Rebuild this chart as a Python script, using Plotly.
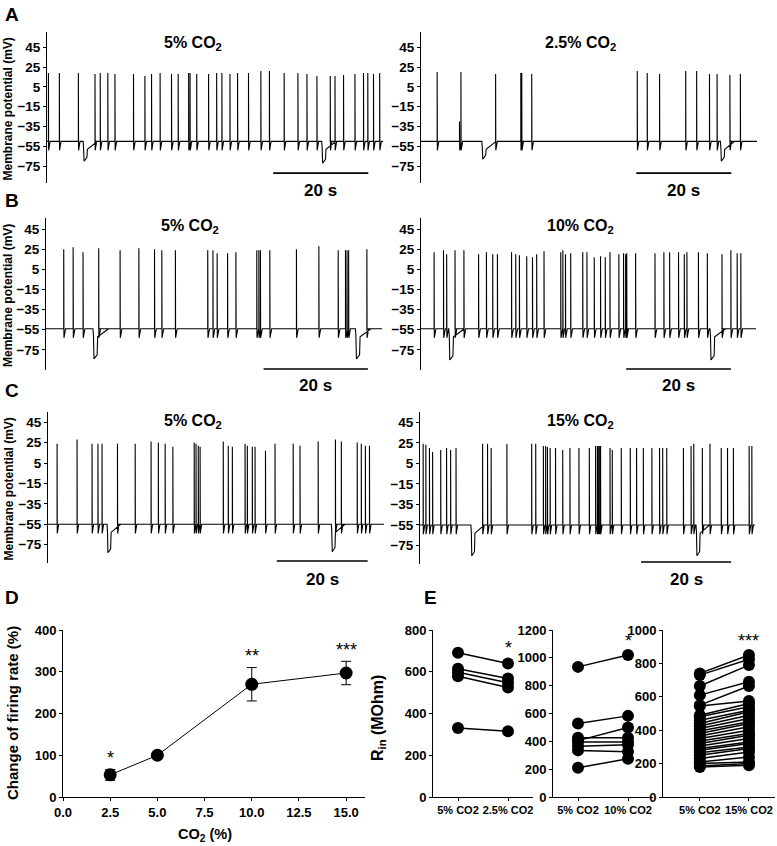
import plotly.graph_objects as go

W, H = 777, 846
FONT = "Liberation Sans, Arial, sans-serif"

# ---- panel A-C: spike times (s), peak (mV), hyperpolarising dips ----
a5_spikes = [0.3, 2.6, 6.6, 10.1, 11.2, 12.8, 14.3, 18.2, 20.6, 22.0, 23.8, 26.2, 27.6, 29.8, 30.1, 31.5,
             34.0, 35.7, 36.8, 38.5, 40.1, 42.4, 45.0, 46.8, 49.9, 52.8, 54.7, 56.8, 59.6, 60.6, 62.4,
             64.8, 66.6, 67.5, 68.7, 70.0]
a5_peaks = [19, 19, 19, 18, 19, 19, 18, 18, 16, 18, 19, 18, 18, 19, 19, 18, 18, 19, 19, 18,
            19, 19, 21, 21, 19, 19, 18, 16, 16, 16, 17, 18, 19, 19, 18, 19]
a5_dips = [7.6, 57.8]
a5_dip_min = [-70, -72]

a25_spikes = [3.4, 8.1, 8.4, 15.7, 21.0, 21.2, 23.3, 45.5, 47.6, 50.2, 55.7, 58.0, 60.7, 62.3, 65.0, 67.2]
a25_peaks = [20, -30, 20, 18, 19, 19, 18, 21, 19, 18, 21, 21, 18, 18, 17, 18]
a25_dips = [12.8, 63.0]
a25_dip_min = [-68, -70]

b5_spikes = [3.4, 5.2, 7.1, 10.1, 14.2, 17.8, 20.8, 22.2, 24.8, 31.0, 32.0, 32.8, 34.8, 36.4, 40.4,
             40.8, 41.1, 42.9, 48.0, 52.3, 56.0, 57.4, 57.7, 58.0, 61.5]
b5_peaks = [25, 27, 22, 26, 24, 26, 25, 24, 24, 24, 24, 21, 21, 22, 24, 24, 24, 24, 25, 28, 24, 24, 24, 24, 25]
b5_dips = [9.0, 59.3]
b5_dip_min = [-84, -84]

b10_spikes = [2.5, 4.3, 4.9, 6.5, 8.2, 11.0, 12.5, 13.7, 14.6, 17.3, 18.1, 18.8, 20.2, 21.3, 22.1, 23.5,
              26.7, 27.1, 27.6, 28.6, 30.9, 31.7, 33.1, 34.3, 35.2, 36.1, 37.8, 38.7, 39.1, 39.3, 41.0,
              44.7, 46.4, 47.5, 49.2, 50.3, 50.8, 53.0, 54.7, 57.5, 59.2, 60.4, 61.1]
b10_peaks = [22, 24, 20, 24, 24, 20, 22, 20, 20, 22, 20, 19, 18, 17, 20, 23, 22, 24, 20, 21, 22, 22,
             17, 18, 17, 22, 20, 21, 20, 21, 21, 21, 22, 22, 22, 20, 22, 22, 21, 20, 24, 21, 21]
b10_dips = [5.3, 55.2]
b10_dip_min = [-85, -85]

c5_spikes = [2.0, 6.4, 9.7, 11.0, 11.9, 15.3, 19.2, 22.7, 24.3, 25.8, 27.5, 32.2, 32.6, 33.1, 33.5, 38.6,
             39.7, 40.6, 43.4, 43.9, 45.0, 45.6, 47.9, 50.0, 54.0, 55.5, 59.5, 63.3, 64.6, 68.1, 69.0,
             69.9, 70.8]
c5_peaks = [24, 28, 24, 24, 24, 24, 24, 26, 25, 24, 21, 25, 24, 22, 21, 26, 22, 21, 24, 22, 21, 21, 17,
            24, 24, 22, 26, 28, 26, 25, 24, 22, 22]
c5_dips = [13.0, 62.4]
c5_dip_min = [-83, -82]

c15_spikes = [0.7, 1.3, 2.1, 2.8, 4.6, 5.9, 6.8, 8.0, 13.9, 15.0, 15.8, 19.3, 24.8, 25.7, 27.4, 27.9,
              28.3, 28.9, 30.1, 31.7, 33.3, 35.3, 37.6, 39.0, 39.4, 39.6, 39.9, 40.1, 42.2, 42.7, 44.7,
              46.7, 48.1, 49.6, 51.5, 53.2, 53.9, 54.8, 58.5, 60.2, 60.8, 62.7, 64.4, 66.9, 68.3, 69.6,
              73.1, 73.7]
c15_peaks = [24, 23, 20, 16, 18, 20, 18, 20, 24, 24, 20, 24, 24, 24, 22, 22, 21, 20, 20, 18, 20, 20,
             20, 22, 22, 22, 22, 22, 20, 18, 20, 20, 20, 20, 20, 20, 20, 20, 20, 22, 24, 20, 24, 20,
             20, 20, 22, 22]
c15_dips = [11.3, 61.3]
c15_dip_min = [-85, -85]

# ---- panel D ----
co2_levels = [2.5, 5.0, 10.0, 15.0]
firing_change = [53, 100, 270, 297]
firing_err = [13, 0, 40, 28]
firing_stars = ["*", "", "**", "***"]

# ---- panel E (input resistance, MOhm) ----
rin_25_ctrl = [691, 614, 598, 578, 330]
rin_25_test = [640, 568, 547, 525, 315]
rin_10_ctrl = [935, 528, 405, 425, 395, 365, 335, 210]
rin_10_test = [1020, 583, 500, 425, 395, 375, 325, 275]
rin_15_ctrl = [740, 730, 665, 610, 550, 545, 490, 480, 460, 440, 425, 410, 395, 380, 365, 350, 335,
               320, 305, 290, 280, 265, 250, 230, 210, 200, 185, 180]
rin_15_test = [850, 825, 790, 690, 665, 575, 560, 540, 520, 510, 490, 470, 450, 440, 420, 400, 380,
               370, 350, 330, 320, 300, 290, 270, 240, 210, 200, 190]


def px(x):
    return x / W


def py(y):
    return 1 - y / H


def label(fig, x, y, text, size, angle=0, xref="paper", yref="paper"):
    fig.add_annotation(xref=xref, yref=yref, x=x, y=y, text=text, textangle=angle, showarrow=False,
                       xanchor="center", yanchor="middle", font=dict(family=FONT, size=size, color="black"))


def build_trace(spikes, peaks, dips, dip_min, base, t_end):
    events = [(t, "s", p) for t, p in zip(spikes, peaks)] + [(t, "d", m) for t, m in zip(dips, dip_min)]
    events.sort()
    xs, ys = [0], [base]
    for t, kind, v in events:
        if kind == "s":
            xs += [t, t, t + 0.04, t + 0.35]
            ys += [base, v, base - 9, base]
        else:
            xs += [t, t + 0.1, t + 0.2, t + 0.8, t + 0.9, t + 3.0]
            ys += [base, base - 7, v, v + 4, base - 8, base]
    xs.append(t_end)
    ys.append(base)
    return xs, ys


fig = go.Figure()

# trace panels
panels = [
    (a5_spikes, a5_peaks, a5_dips, a5_dip_min, -50, 70.7, (47, 383), (32, 183), (-92, 60.5), 47.6, -82, "5% CO<sub>2</sub>", (193, 43)),
    (a25_spikes, a25_peaks, a25_dips, a25_dip_min, -50, 70.7, (421, 757), (32, 183), (-92, 60.5), 45.3, -82, "2.5% CO<sub>2</sub>", (580, 43)),
    (b5_spikes, b5_peaks, b5_dips, b5_dip_min, -54, 64.4, (46, 382), (218, 370), (-95, 56), 41.7, -94, "5% CO<sub>2</sub>", (190, 226)),
    (b10_spikes, b10_peaks, b10_dips, b10_dip_min, -54, 64.0, (421, 756), (218, 370), (-95, 56), 39.2, -94, "10% CO<sub>2</sub>", (580, 226)),
    (c5_spikes, c5_peaks, c5_dips, c5_dip_min, -55, 74.0, (48, 384), (412, 563), (-93, 55), 50.4, -91, "5% CO<sub>2</sub>", (193, 421)),
    (c15_spikes, c15_peaks, c15_dips, c15_dip_min, -55, 74.4, (420, 755), (412, 564), (-93, 55), 49.1, -91, "15% CO<sub>2</sub>", (580, 421)),
]
bar_label_y = [190, 190, 385, 385, 579, 579]

axis_line = dict(showline=True, linecolor="black", linewidth=1, showgrid=False, zeroline=False,
                 ticks="outside", ticklen=3, tickcolor="black", automargin=False)

for i, (sp, pk, dp, dm, base, T, xd, yd, yr, bar0, bar_y, title, tpos) in enumerate(panels, start=1):
    xs, ys = build_trace(sp, pk, dp, dm, base, T)
    fig.add_trace(go.Scatter(x=xs, y=ys, mode="lines", line=dict(color="black", width=1.1),
                             xaxis=f"x{i}", yaxis=f"y{i}", hoverinfo="skip"))
    fig.update_layout(**{
        f"xaxis{i}": dict(domain=[px(xd[0]), px(xd[1])], range=[0, T], visible=False, anchor=f"y{i}",
                          automargin=False),
        f"yaxis{i}": dict(domain=[py(yd[1]), py(yd[0])], range=list(yr), anchor=f"x{i}",
                          tickvals=[45, 25, 5, -15, -35, -55, -75],
                          tickfont=dict(family=FONT, size=13.5, color="black", weight="bold"), **axis_line),
    })
    fig.add_shape(type="line", xref=f"x{i}", yref=f"y{i}", x0=bar0, x1=bar0 + 20, y0=bar_y, y1=bar_y,
                  line=dict(color="black", width=1.6))
    label(fig, bar0 + 10, py(bar_label_y[i - 1]), "<b>20 s</b>", 17, xref=f"x{i}")
    label(fig, px(tpos[0]), py(tpos[1]), f"<b>{title}</b>", 16)
    if i % 2 == 1:
        label(fig, px(8), py((yd[0] + yd[1]) / 2 + 2), "<b>Membrane potential (mV)</b>", 12, angle=-90)

# panel D
fig.add_trace(go.Scatter(x=co2_levels, y=firing_change, mode="lines+markers",
                         line=dict(color="black", width=1), marker=dict(color="black", size=13),
                         error_y=dict(type="data", array=firing_err, color="black", thickness=1, width=5),
                         xaxis="x7", yaxis="y7", hoverinfo="skip"))
tick_font = dict(family=FONT, size=13, color="black", weight="bold")
fig.update_layout(
    xaxis7=dict(domain=[px(63), px(365)], range=[0, 16], anchor="y7", tickvals=[0, 2.5, 5, 7.5, 10, 12.5, 15],
                ticktext=["0.0", "2.5", "5.0", "7.5", "10.0", "12.5", "15.0"], tickfont=tick_font, **axis_line),
    yaxis7=dict(domain=[py(797), py(630)], range=[0, 400], anchor="x7", dtick=100, tickfont=tick_font, **axis_line),
)
for x, y, e, s in zip(co2_levels, firing_change, firing_err, firing_stars):
    if s:
        label(fig, x, y + e + 28, s, 18, xref="x7", yref="y7")
label(fig, px(12), py(713), "<b>Change of firing rate (%)</b>", 15, angle=-90)
label(fig, px(205), py(835), "<b>CO<sub>2</sub> (%)</b>", 14.5)

# panel E
e_sets = [
    (rin_25_ctrl, rin_25_test, "2.5% CO2", (433, 533), [-0.5, 1.5], [0, 800], 200, "*", 712),
    (rin_10_ctrl, rin_10_test, "10% CO2", (553, 653), [-0.5, 1.5], [0, 1200], 200, "*", 1120),
    (rin_15_ctrl, rin_15_test, "15% CO2", (663, 775), [-0.75, 1.53], [0, 1000], 200, "***", 935),
]
for k, (ctrl, test, lab, xd, xr, yr, dt, star, star_y) in enumerate(e_sets, start=8):
    for c, t in zip(ctrl, test):
        fig.add_trace(go.Scatter(x=[0, 1], y=[c, t], mode="lines+markers",
                                 line=dict(color="black", width=1.5), marker=dict(color="black", size=12),
                                 xaxis=f"x{k}", yaxis=f"y{k}", hoverinfo="skip"))
    fig.update_layout(**{
        f"xaxis{k}": dict(domain=[px(xd[0]), px(xd[1])], range=xr, anchor=f"y{k}", tickvals=[0, 1],
                          ticktext=["5% CO2", lab],
                          tickfont=dict(family=FONT, size=11, color="black", weight="bold"), **axis_line),
        f"yaxis{k}": dict(domain=[py(797), py(630)], range=yr, anchor=f"x{k}", dtick=dt,
                          tickfont=tick_font, **axis_line),
    })
    label(fig, 1, star_y, star, 18, xref=f"x{k}", yref=f"y{k}")
label(fig, px(378), py(718), "<b>R<sub>in</sub> (MOhm)</b>", 16, angle=-90)

# panel letters
for letter, (lx, ly) in zip("ABCDE", [(12, 15), (12, 200), (12, 391), (12, 597), (430, 597)]):
    label(fig, px(lx), py(ly), f"<b>{letter}</b>", 19)

fig.update_layout(width=W, height=H, margin=dict(l=0, r=0, t=0, b=0), showlegend=False,
                  plot_bgcolor="white", paper_bgcolor="white")

fig.write_html("out.html", config={"displayModeBar": False},
               post_script="document.body.style.margin='0';")
